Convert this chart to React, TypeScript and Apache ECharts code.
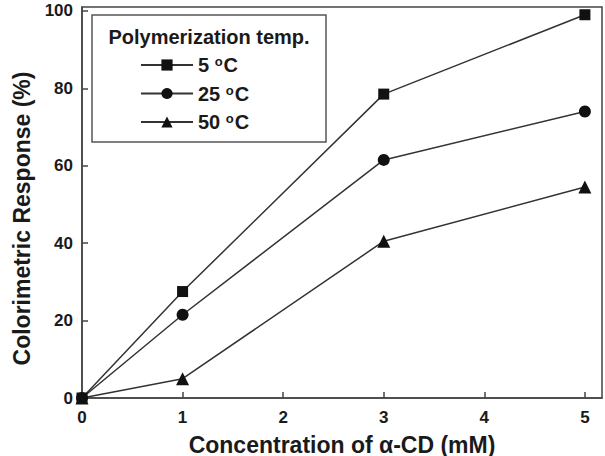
import React, { useEffect, useRef } from "react";
import * as echarts from "echarts";

const xValues = [0, 1, 3, 5];
const seriesNames = ["5 °C", "25 °C", "50 °C"];
const seriesSymbols = ["rect", "circle", "triangle"];
const values5 = [0, 27.5, 78.5, 99];
const values25 = [0, 21.5, 61.5, 74];
const values50 = [0, 5, 40.5, 54.5];
const allValues = [values5, values25, values50];

const FONT = "Liberation Sans, Arial, Helvetica, sans-serif";

export default function App() {
  const ref = useRef<HTMLDivElement>(null);
  useEffect(() => {
    if (!ref.current) return;
    const chart = echarts.init(ref.current, null, { renderer: "svg" });
    const series = seriesNames.map((name, i) => ({
      name,
      type: "line",
      data: xValues.map((x, j) => [x, allValues[i][j]]),
      symbol: seriesSymbols[i],
      symbolSize: i === 2 ? 13 : i === 1 ? 12 : 11,
      lineStyle: { color: "#333", width: 1.5 },
      itemStyle: { color: "#111", borderWidth: 0 },
      z: 3,
    }));
    chart.setOption({
      animation: false,
      backgroundColor: "#fff",
      textStyle: { fontFamily: FONT },
      grid: {
        left: 82,
        right: 3,
        top: 7,
        bottom: 58,
        show: true,
        borderColor: "#444",
        borderWidth: 1.5,
        containLabel: false,
        outerBoundsMode: "none",
      },
      graphic: [
        {
          type: "rect",
          shape: { x: 92, y: 15, width: 234, height: 127 },
          style: { fill: "#fff", stroke: "#555", lineWidth: 1.5 },
          z: 10,
        },
        {
          type: "text",
          x: 209,
          y: 37,
          style: {
            text: "Polymerization temp.",
            font: `bold 20px ${FONT}`,
            fill: "#1a1a1a",
            align: "center",
            verticalAlign: "middle",
          },
          z: 11,
        },
      ],
      legend: {
        orient: "vertical",
        left: 140,
        top: 55,
        padding: 0,
        itemWidth: 52,
        itemHeight: 14,
        itemGap: 8.5,
        z: 12,
        data: seriesNames,
        formatter: (name: string) => name.replace(" °C", " {sup|o}C"),
        textStyle: {
          fontFamily: FONT,
          fontWeight: "bold",
          fontSize: 20,
          lineHeight: 20,
          color: "#1a1a1a",
          rich: {
            sup: {
              fontFamily: FONT,
              fontWeight: "bold",
              fontSize: 13,
              lineHeight: 13,
              color: "#1a1a1a",
              verticalAlign: "top",
              padding: [0, 1, 0, 0],
            },
          },
        },
      },
      xAxis: {
        type: "value",
        min: 0,
        max: 5.17,
        interval: 1,
        name: "Concentration of α-CD (mM)",
        nameLocation: "middle",
        nameGap: 35,
        nameTextStyle: { fontFamily: FONT, fontWeight: "bold", fontSize: 23, color: "#1a1a1a" },
        axisLine: { show: true, lineStyle: { color: "#444", width: 1.5 } },
        axisTick: { show: true, inside: true, length: 6, lineStyle: { color: "#444", width: 1.5 } },
        axisLabel: {
          showMaxLabel: false,
          margin: 11,
          fontFamily: FONT,
          fontWeight: "bold",
          fontSize: 17,
          color: "#1a1a1a",
        },
        splitLine: { show: false },
      },
      yAxis: {
        type: "value",
        min: 0,
        max: 101,
        interval: 20,
        name: "Colorimetric Response (%)",
        nameLocation: "middle",
        nameGap: 48,
        nameTextStyle: {
          fontFamily: FONT,
          fontWeight: "bold",
          fontSize: 23,
          color: "#1a1a1a",
          padding: [0, 32, 0, 0],
        },
        axisLine: { show: true, lineStyle: { color: "#444", width: 1.5 } },
        axisTick: { show: true, inside: true, length: 6, lineStyle: { color: "#444", width: 1.5 } },
        axisLabel: {
          showMaxLabel: false,
          margin: 9,
          fontFamily: FONT,
          fontWeight: "bold",
          fontSize: 17,
          color: "#1a1a1a",
        },
        splitLine: { show: false },
      },
      series,
    });
    return () => chart.dispose();
  }, []);
  return <div ref={ref} style={{ width: 605, height: 456, position: "absolute", left: 0, top: 0 }} />;
}
